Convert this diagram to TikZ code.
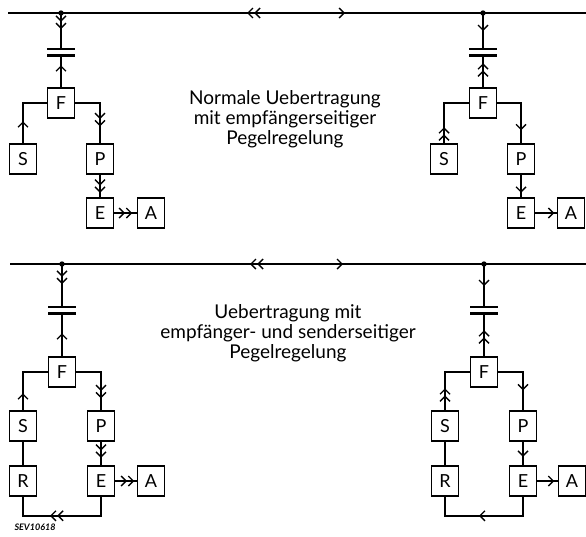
\documentclass[tikz,border=0pt]{standalone}
\usepackage{fontspec}
\setmainfont{Lato}
\usetikzlibrary{positioning,arrows.meta,decorations.markings}
\tikzset{
  blk/.style={draw,line width=1.5pt,minimum width=27pt,minimum height=30pt,inner sep=0pt,font=\fontsize{18}{18}\selectfont},
  wire/.style={line width=1.5pt},
  plate/.style={line width=2.6pt},
  txt/.style={align=center,font=\fontsize{19}{20}\selectfont},
  onetip/.style={postaction={decorate},decoration={markings,mark=at position #1 with {\arrow{Straight Barb[length=5pt,width=10pt,line width=1.4pt]}}}},
  twotip/.style={postaction={decorate},decoration={markings,mark=at position #1 with {\arrow{Straight Barb[length=5pt,width=10pt,line width=1.4pt,sep=0.5pt]Straight Barb[length=5pt,width=10pt,line width=1.4pt]}}}},
  busline/.style 2 args={line width=1.5pt,postaction={decorate},decoration={markings,
    mark=at position #1 with {\arrowreversed{Straight Barb[length=5pt,width=10pt,line width=1.4pt,sep=0.5pt]Straight Barb[length=5pt,width=10pt,line width=1.4pt]}},
    mark=at position #2 with {\arrow{Straight Barb[length=5pt,width=10pt,line width=1.4pt]}}}}
}
\begin{document}
\begin{tikzpicture}[x=1pt,y=-1pt]
\useasboundingbox (0,0) rectangle (586,536);
\coordinate (bus1a) at (8,13);
\coordinate (bus1b) at (586,13);
\draw[busline={239pt}{337pt}] (bus1a) -- (bus1b);
\coordinate (bus2a) at (10,264);
\coordinate (bus2b) at (586,264);
\draw[busline={240pt}{333pt}] (bus2a) -- (bus2b);
\node[txt] (T1) at (285,119) {Normale Uebertragung\\mit empfängerseitiger\\Pegelregelung};
\node[txt] (T2) at (288,333) {Uebertragung mit\\empfänger- und senderseitiger\\Pegelregelung};
\node[font=\fontsize{9}{9}\selectfont\bfseries\itshape] (sev) at (35,527) {SEV10618};
\coordinate (t1) at (61,13);
\coordinate (ca1) at (61,49);
\coordinate (cb1) at (61,55.5);
\node[blk] (F1) at (61,103) {F};
\node[blk] (S1) at (23,159) {S};
\node[blk] (P1) at (100,159) {P};
\node[blk] (E1) at (100,213) {E};
\node[blk] (A1) at (151,213) {A};
\fill (t1) circle (2.7pt);
\draw[plate] ([xshift=-14pt]ca1) -- ([xshift=14pt]ca1);
\draw[plate] ([xshift=-14pt]cb1) -- ([xshift=14pt]cb1);
\draw[wire,twotip=16pt] (t1) -- (ca1);
\draw[wire,onetip=22pt] (F1) -- (cb1);
\draw[wire,onetip=22pt] (S1.north) |- (F1.west);
\draw[wire,twotip=48pt] (F1.east) -| (P1.north);
\draw[wire,twotip=18pt] (P1) -- (E1);
\draw[wire,twotip=18pt] (E1) -- (A1);
\coordinate (t2) at (483,13);
\coordinate (ca2) at (483,49);
\coordinate (cb2) at (483,55.5);
\node[blk] (F2) at (483,103) {F};
\node[blk] (S2) at (444,159) {S};
\node[blk] (P2) at (521,159) {P};
\node[blk] (E2) at (521,213) {E};
\node[blk] (A2) at (571,213) {A};
\fill (t2) circle (2.7pt);
\draw[plate] ([xshift=-14pt]ca2) -- ([xshift=14pt]ca2);
\draw[plate] ([xshift=-14pt]cb2) -- ([xshift=14pt]cb2);
\draw[wire,onetip=18pt] (t2) -- (ca2);
\draw[wire,twotip=24pt] (F2) -- (cb2);
\draw[wire,twotip=16pt] (S2.north) |- (F2.west);
\draw[wire,onetip=51pt] (F2.east) -| (P2.north);
\draw[wire,onetip=18pt] (P2) -- (E2);
\draw[wire,onetip=19pt] (E2) -- (A2);
\coordinate (t3) at (62,264);
\coordinate (ca3) at (62,307);
\coordinate (cb3) at (62,313.5);
\node[blk] (F3) at (62,372) {F};
\node[blk] (S3) at (23,426) {S};
\node[blk] (R3) at (23,481) {R};
\node[blk] (P3) at (101,426) {P};
\node[blk] (E3) at (101,481) {E};
\node[blk] (A3) at (151,481) {A};
\fill (t3) circle (2.7pt);
\draw[plate] ([xshift=-14pt]ca3) -- ([xshift=14pt]ca3);
\draw[plate] ([xshift=-14pt]cb3) -- ([xshift=14pt]cb3);
\draw[wire,twotip=20pt] (t3) -- (ca3);
\draw[wire,onetip=23pt] (F3) -- (cb3);
\draw[wire,onetip=17pt] (S3.north) |- (F3.west);
\draw[wire,twotip=51pt] (F3.east) -| (P3.north);
\draw[wire,twotip=16pt] (P3) -- (E3);
\draw[wire,twotip=19pt] (E3) -- (A3);
\draw[wire] (S3) -- (R3);
\draw[wire,twotip=70pt] (E3.south) -- ++(0,19) -| (R3.south);
\coordinate (t4) at (484,264);
\coordinate (ca4) at (484,307);
\coordinate (cb4) at (484,313.5);
\node[blk] (F4) at (484,372) {F};
\node[blk] (S4) at (445,426) {S};
\node[blk] (R4) at (445,481) {R};
\node[blk] (P4) at (523,426) {P};
\node[blk] (E4) at (523,481) {E};
\node[blk] (A4) at (572,481) {A};
\fill (t4) circle (2.7pt);
\draw[plate] ([xshift=-14pt]ca4) -- ([xshift=14pt]ca4);
\draw[plate] ([xshift=-14pt]cb4) -- ([xshift=14pt]cb4);
\draw[wire,onetip=22pt] (t4) -- (ca4);
\draw[wire,twotip=26pt] (F4) -- (cb4);
\draw[wire,twotip=22pt] (S4.north) |- (F4.west);
\draw[wire,onetip=43pt] (F4.east) -| (P4.north);
\draw[wire,onetip=15pt] (P4) -- (E4);
\draw[wire,onetip=17pt] (E4) -- (A4);
\draw[wire] (S4) -- (R4);
\draw[wire,onetip=63pt] (E4.south) -- ++(0,19) -| (R4.south);
\end{tikzpicture}
\end{document}
